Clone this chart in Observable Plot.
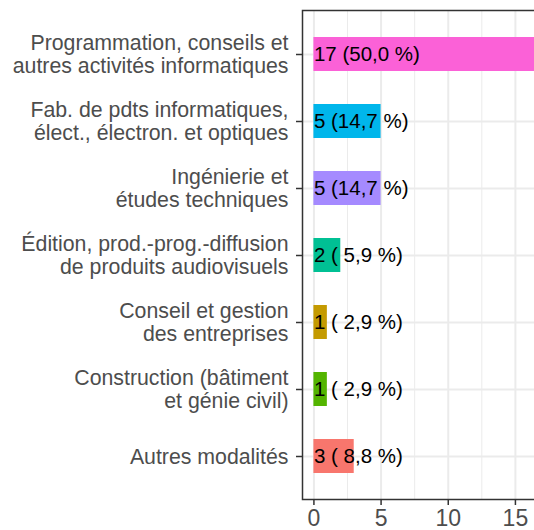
<!DOCTYPE html>
<html>
<head>
<meta charset="utf-8">
<script src="https://cdn.jsdelivr.net/npm/d3@7"></script>
<script src="https://cdn.jsdelivr.net/npm/@observablehq/plot@0.6"></script>
<style>
  html, body { margin: 0; padding: 0; background: white; overflow: hidden; }
  #chart { width: 534px; height: 530px; overflow: hidden; }
  #chart svg { max-width: none !important; }
</style>
</head>
<body>
<div id="chart"></div>
<script>
// Categories, top to bottom
const categories = [
  "Programmation, conseils et\nautres activités informatiques",
  "Fab. de pdts informatiques,\nélect., électron. et optiques",
  "Ingénierie et\nétudes techniques",
  "Édition, prod.-prog.-diffusion\nde produits audiovisuels",
  "Conseil et gestion\ndes entreprises",
  "Construction (bâtiment\net génie civil)",
  "Autres modalités"
];
const counts = [17, 5, 5, 2, 1, 1, 3];
const percents = [50.0, 14.7, 14.7, 5.9, 2.9, 2.9, 8.8];
const colors = ["#FB61D7", "#00B6EB", "#A58AFF", "#00C094", "#C49A00", "#53B400", "#F8766D"];
const majorTicks = [0, 5, 10, 15];
const minorTicks = [2.5, 7.5, 12.5, 17.5];

const fmtPct = p => p.toFixed(1).replace(".", ",").padStart(4, " ");
const data = categories.map((c, i) => ({
  cat: c,
  n: counts[i],
  label: `${counts[i]} (${fmtPct(percents[i])} %)`
}));

const font = "'Liberation Sans', Arial, Helvetica, sans-serif";

const chart = Plot.plot({
  width: 556,
  height: 530,
  marginLeft: 302,
  marginRight: 2.8,
  marginTop: 10,
  marginBottom: 31,
  style: { fontFamily: font, background: "white", overflow: "hidden" },
  x: { domain: [-0.85, 17.85], axis: null },
  y: { domain: categories, paddingInner: 0.5, paddingOuter: 0.35, axis: null },
  color: { domain: categories, range: colors },
  marks: [
    Plot.gridX(minorTicks, { stroke: "#ebebeb", strokeOpacity: 1, strokeWidth: 1 }),
    Plot.gridX(majorTicks, { stroke: "#ebebeb", strokeOpacity: 1, strokeWidth: 2 }),
    Plot.gridY(categories, { stroke: "#ebebeb", strokeOpacity: 1, strokeWidth: 2 }),
    Plot.barX(data, { x: "n", y: "cat", fill: "cat" }),
    Plot.text(data, {
      x: 0, y: "cat", text: "label", textAnchor: "start", dx: 0,
      fill: "black", fontSize: 20.5, fontFamily: font
    }),
    Plot.frame({ stroke: "#333333", strokeWidth: 1.5 }),
    Plot.axisY({
      tickSize: 6, tickPadding: 8, stroke: "#333333", strokeWidth: 1.5,
      fill: "#4D4D4D", fontSize: 21.3, lineHeight: 1.07, label: null
    }),
    Plot.axisX(majorTicks, {
      tickSize: 6, tickPadding: 4.5, stroke: "#333333", strokeWidth: 1.5,
      fill: "#4D4D4D", fontSize: 23, label: null
    })
  ]
});
document.getElementById("chart").appendChild(chart);
</script>
</body>
</html>
